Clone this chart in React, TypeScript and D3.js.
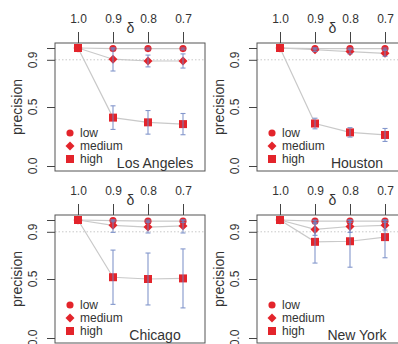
import { useEffect, useRef } from 'react';
import * as d3 from 'd3';

const cities = ['Los Angeles', 'Houston', 'Chicago', 'New York'];
const deltas = [1.0, 0.9, 0.8, 0.7];
const levels = ['low', 'medium', 'high'];
const yTicks = [0, 0.5, 0.9, 1.0];
const yTickLabels = ['0.0', '0.5', '0.9', ''];

// mean precision per city (LA, Houston, Chicago, NY) and delta
const lowMean = [
    [1.0, 0.995, 0.995, 0.995],
    [1.0, 0.995, 0.995, 0.995],
    [1.0, 0.995, 0.99, 0.99],
    [1.0, 0.99, 0.99, 0.99],
];
const mediumMean = [
    [1.0, 0.905, 0.89, 0.89],
    [1.0, 0.985, 0.97, 0.955],
    [1.0, 0.955, 0.94, 0.95],
    [1.0, 0.92, 0.945, 0.955],
];
const highMean = [
    [1.0, 0.41, 0.37, 0.355],
    [1.0, 0.36, 0.285, 0.263],
    [1.0, 0.515, 0.5, 0.505],
    [1.0, 0.815, 0.82, 0.855],
];
// error bar half widths
const lowErr = [
    [0, 0.01, 0.01, 0.01],
    [0, 0.01, 0.01, 0.01],
    [0, 0.01, 0.01, 0.01],
    [0, 0.01, 0.01, 0.01],
];
const mediumErr = [
    [0, 0.1, 0.05, 0.06],
    [0, 0.015, 0.02, 0.025],
    [0, 0.06, 0.05, 0.06],
    [0, 0.05, 0.05, 0.04],
];
const highErr = [
    [0, 0.1, 0.1, 0.09],
    [0, 0.045, 0.04, 0.055],
    [0, 0.23, 0.22, 0.25],
    [0, 0.18, 0.22, 0.175],
];

const RED = '#e3242b';
const BLUE = '#6f86c4';
const TEXT = '#333';
const FONT = '"Liberation Sans", Arial, sans-serif';

// R-style pch 18: a square turned 45 degrees
const diamondR = {
    draw(context: any, size: number) {
        const r = Math.sqrt(size / 2);
        context.moveTo(0, -r);
        context.lineTo(r, 0);
        context.lineTo(0, r);
        context.lineTo(-r, 0);
        context.closePath();
    },
};

export default function App() {
    const svgRef = useRef<SVGSVGElement>(null);

    useEffect(() => {
        if (!svgRef.current) return;
        const svg = d3.select(svgRef.current);
        svg.selectAll('*').remove();

        const boxW = 150;
        const boxH = 128;
        const origins = [
            [55, 43],
            [257, 43],
            [55, 215],
            [257, 215],
        ];

        const x = d3.scaleLinear().domain([1.0, 0.7]).range([23, 128]);
        const y = d3.scaleLinear().domain([0, 1]).range([123, 5]);

        const means = [lowMean, mediumMean, highMean];
        const errs = [lowErr, mediumErr, highErr];
        const shapes = [
            d3.symbol(d3.symbolCircle, 40),
            d3.symbol(diamondR, 40),
            d3.symbol(d3.symbolSquare, 64),
        ];

        const line = d3
            .line<number>()
            .x((_, i) => x(deltas[i]))
            .y((d) => y(d));

        cities.forEach((city, c) => {
            const [ox, oy] = origins[c];
            const g = svg
                .append('g')
                .attr('transform', `translate(${ox}, ${oy})`)
                .style('font-family', FONT);

            // dotted reference at 0.9
            g.append('line')
                .attr('x1', 0)
                .attr('x2', boxW)
                .attr('y1', y(0.9))
                .attr('y2', y(0.9))
                .attr('stroke', '#c8c8c8')
                .attr('stroke-dasharray', '1.5,2');

            // connecting lines
            means.forEach((m) => {
                g.append('path')
                    .datum(m[c])
                    .attr('d', line)
                    .attr('fill', 'none')
                    .attr('stroke', '#c9c9c9')
                    .attr('stroke-width', 1.2);
            });

            // points
            means.forEach((m, s) => {
                g.selectAll(null)
                    .data(m[c])
                    .enter()
                    .append('path')
                    .attr('d', shapes[s]())
                    .attr('transform', (d, i) => `translate(${x(deltas[i])}, ${y(d)})`)
                    .attr('fill', RED);
            });

            // error bars
            means.forEach((m, s) => {
                m[c].forEach((v, i) => {
                    const e = errs[s][c][i];
                    if (!e) return;
                    const cx = x(deltas[i]);
                    const top = y(Math.min(1, v + e));
                    const bot = y(v - e);
                    const eb = g.append('g').attr('stroke', BLUE).attr('stroke-width', 1.1).attr('opacity', 0.85);
                    eb.append('line').attr('x1', cx).attr('x2', cx).attr('y1', top).attr('y2', bot);
                    eb.append('line').attr('x1', cx - 2.5).attr('x2', cx + 2.5).attr('y1', top).attr('y2', top);
                    eb.append('line').attr('x1', cx - 2.5).attr('x2', cx + 2.5).attr('y1', bot).attr('y2', bot);
                });
            });

            // box
            g.append('rect')
                .attr('width', boxW)
                .attr('height', boxH)
                .attr('fill', 'none')
                .attr('stroke', '#555');

            // top axis
            const xa = g
                .append('g')
                .call(
                    d3
                        .axisTop(x)
                        .tickValues(deltas)
                        .tickSize(11)
                        .tickPadding(9)
                        .tickFormat(d3.format('.1f'))
                );
            xa.select('.domain').remove();
            xa.selectAll('line').attr('stroke', '#444');
            xa.selectAll('text').attr('fill', TEXT).style('font-size', '12px').style('font-family', FONT);

            g.append('text')
                .attr('x', (x(0.9) + x(0.8)) / 2)
                .attr('y', -10)
                .attr('text-anchor', 'middle')
                .attr('fill', TEXT)
                .style('font-size', '14px')
                .text('δ');

            // left axis
            const ya = g
                .append('g')
                .call(d3.axisLeft(y).tickValues(yTicks).tickSize(8).tickFormat(() => ''));
            ya.select('.domain').remove();
            ya.selectAll('line').attr('stroke', '#444');

            yTicks.forEach((t, i) => {
                g.append('text')
                    .attr('transform', `translate(-18, ${y(t)}) rotate(-90)`)
                    .attr('text-anchor', 'middle')
                    .attr('fill', TEXT)
                    .style('font-size', '12px')
                    .text(yTickLabels[i]);
            });

            g.append('text')
                .attr('transform', `translate(-33, ${boxH / 2}) rotate(-90)`)
                .attr('text-anchor', 'middle')
                .attr('fill', TEXT)
                .style('font-size', '14px')
                .text('precision');

            // legend
            levels.forEach((lv, s) => {
                const ly = 90 + s * 13;
                g.append('path')
                    .attr('d', shapes[s]())
                    .attr('transform', `translate(15, ${ly})`)
                    .attr('fill', RED);
                g.append('text')
                    .attr('x', 25)
                    .attr('y', ly)
                    .attr('dy', '0.35em')
                    .attr('fill', TEXT)
                    .style('font-size', '12px')
                    .text(lv);
            });

            g.append('text')
                .attr('x', 100)
                .attr('y', 125)
                .attr('text-anchor', 'middle')
                .attr('fill', TEXT)
                .style('font-size', '14px')
                .text(city);
        });
    }, []);

    return (
        <svg
            ref={svgRef}
            width={398}
            height={344}
            style={{ position: 'absolute', left: 0, top: 0, background: '#fff' }}
        ></svg>
    );
}
